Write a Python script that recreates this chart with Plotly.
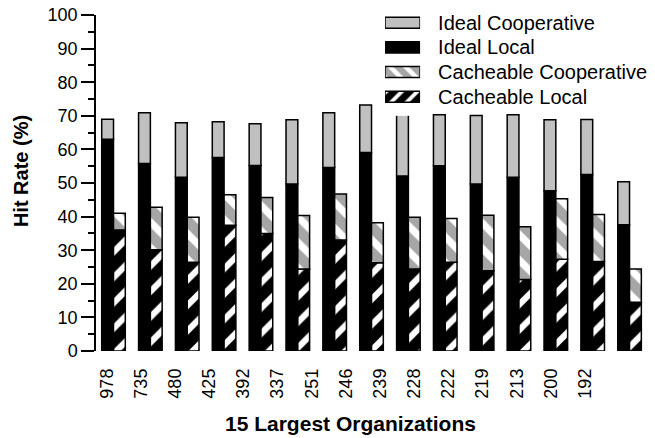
import plotly.graph_objects as go

orgs = ["978", "735", "480", "425", "392", "337", "251", "246", "239", "228",
        "222", "219", "213", "200", "192"]
ideal_total = [69.0, 70.9, 67.9, 68.2, 67.6, 68.8, 70.9, 73.2, 70.7, 70.3,
               70.1, 70.3, 68.8, 68.9, 50.4]
ideal_local = [63.0, 55.8, 51.7, 57.6, 55.2, 49.7, 54.6, 59.1, 52.1, 55.1,
               49.7, 51.7, 47.7, 52.5, 37.6]
cache_total = [41.0, 42.8, 39.8, 46.5, 45.7, 40.3, 46.7, 38.2, 39.8, 39.4,
               40.4, 37.0, 45.3, 40.6, 24.4]
cache_local = [36.0, 30.1, 26.4, 37.4, 35.0, 24.4, 33.0, 26.3, 24.4, 26.4,
               23.9, 21.3, 27.3, 26.6, 14.5]
legend_names = ["Ideal Cooperative", "Ideal Local", "Cacheable Cooperative", "Cacheable Local"]

FONT = "Liberation Sans, Arial, sans-serif"
LINE = dict(color="black", width=1.5)
GRAY1 = "#c0c0c0"
GRAY2 = "#a6a6a6"

idx = list(range(len(orgs)))
ideal_coop = [t - l for t, l in zip(ideal_total, ideal_local)]
cache_coop = [t - l for t, l in zip(cache_total, cache_local)]

W = 0.32
fig = go.Figure()
fig.add_trace(go.Bar(x=idx, y=ideal_local, offset=-W, width=W,
                     marker=dict(color="black", line=LINE), showlegend=False))
fig.add_trace(go.Bar(x=idx, y=ideal_coop, base=ideal_local, offset=-W, width=W,
                     marker=dict(color=GRAY1, line=LINE), showlegend=False))
fig.add_trace(go.Bar(x=idx, y=cache_local, offset=0, width=W,
                     marker=dict(color="black", line=LINE,
                                 pattern=dict(shape="/", bgcolor="black", fgcolor="white",
                                              size=18, solidity=0.35, fillmode="replace")),
                     showlegend=False))
fig.add_trace(go.Bar(x=idx, y=cache_coop, base=cache_local, offset=0, width=W,
                     marker=dict(color=GRAY2, line=LINE,
                                 pattern=dict(shape="\\", bgcolor=GRAY2, fgcolor="white",
                                              size=18, solidity=0.4, fillmode="replace")),
                     showlegend=False))

# legend drawn as a small bar panel (wide swatches like the original)
leg_rows = list(range(len(legend_names)))
leg_styles = [
    dict(color=GRAY1, line=LINE),
    dict(color="black", line=LINE),
    dict(color=GRAY2, line=LINE, pattern=dict(shape="\\", bgcolor=GRAY2, fgcolor="white",
                                              size=11, solidity=0.4, fillmode="replace")),
    dict(color="black", line=LINE, pattern=dict(shape="/", bgcolor="black", fgcolor="white",
                                                size=11, solidity=0.35, fillmode="replace")),
]
for r, st in zip(leg_rows, leg_styles):
    fig.add_trace(go.Bar(x=[1], y=[r], orientation="h", width=0.45, marker=st,
                         xaxis="x2", yaxis="y2", showlegend=False, hoverinfo="skip"))

tick_pos = [-0.184 + 0.927 * i for i in idx]

fig.update_layout(
    width=655, height=438,
    margin=dict(l=96, r=5, t=15, b=87, autoexpand=False),
    paper_bgcolor="white", plot_bgcolor="white",
    barmode="overlay",
    font=dict(family=FONT, size=18, color="black"),
    xaxis=dict(range=[-0.475, 14.555], tickmode="array", tickvals=tick_pos,
               ticktext=orgs, tickangle=-90, showgrid=False, zeroline=False,
               showline=False, ticks="", ticklabelstandoff=13, automargin=False,
               tickfont=dict(size=18, family=FONT)),
    yaxis=dict(range=[0, 100], dtick=10, showgrid=False, zeroline=False,
               showline=True, linecolor="black", linewidth=1.5, automargin=False,
               ticks="outside", ticklen=13, tickwidth=1.5, tickcolor="black",
               minor=dict(dtick=5, ticks="outside", ticklen=6, tickwidth=1.5,
                          tickcolor="black"),
               tickfont=dict(size=18, family=FONT)),
    xaxis2=dict(domain=[0.5217, 0.585], range=[0, 1], anchor="y2", visible=False,
                automargin=False),
    yaxis2=dict(domain=[0.70, 1.0], range=[3.774, -0.312], anchor="x2",
                side="right", tickmode="array", tickvals=leg_rows, ticktext=legend_names,
                showgrid=False, zeroline=False, showline=False, ticks="",
                automargin=False,
                ticklabelstandoff=17, tickfont=dict(size=20, family=FONT)),
    annotations=[
        dict(text="<b>15 Largest Organizations</b>", xref="paper", yref="paper",
             x=0.4585, y=-0.217, xanchor="center", yanchor="middle", showarrow=False,
             font=dict(size=21, family=FONT)),
        dict(text="<b>Hit Rate (%)</b>", xref="paper", yref="paper",
             x=-0.135, y=0.536, xanchor="center", yanchor="middle", showarrow=False,
             textangle=-90, font=dict(size=20, family=FONT)),
    ],
)

fig.write_html("out.html", config={"displayModeBar": False},
               post_script="document.body.style.margin='0';")
